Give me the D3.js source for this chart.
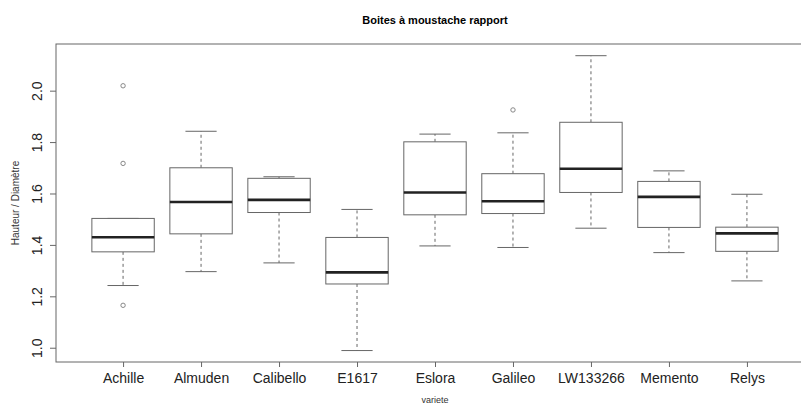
<!DOCTYPE html>
<html>
<head>
<meta charset="utf-8">
<script src="https://cdn.jsdelivr.net/npm/d3@7"></script>
<style>
  body { margin: 0; background: #fff; }
  svg { font-family: "Liberation Sans", Arial, sans-serif; }
</style>
</head>
<body>
<svg id="chart" width="801" height="405"></svg>
<script>
// box statistics
const varietes = ["Achille", "Almuden", "Calibello", "E1617", "Eslora", "Galileo", "LW133266", "Memento", "Relys"];
const whiskerLow  = [1.242, 1.296, 1.330, 0.989, 1.396, 1.390, 1.465, 1.370, 1.260];
const q1          = [1.373, 1.443, 1.526, 1.248, 1.517, 1.522, 1.604, 1.468, 1.375];
const medians     = [1.430, 1.567, 1.575, 1.293, 1.604, 1.570, 1.696, 1.587, 1.445];
const q3          = [1.503, 1.700, 1.659, 1.429, 1.801, 1.677, 1.877, 1.647, 1.469];
const whiskerHigh = [1.503, 1.842, 1.665, 1.538, 1.831, 1.836, 2.136, 1.688, 1.597];
const outliers = [
  ["Achille", 2.019], ["Achille", 1.717], ["Achille", 1.165],
  ["Galileo", 1.925]
];
const yTicks = [1.0, 1.2, 1.4, 1.6, 1.8, 2.0];

const svg = d3.select("#chart");
const pLeft = 56, pRight = 814, pTop = 44, pBottom = 362;

// R style: positions 1..n, xlim 0.5..n+0.5 widened by 4%
const n = varietes.length;
const x = d3.scaleLinear()
  .domain([0.5 - n * 0.04, n + 0.5 + n * 0.04])
  .range([pLeft, pRight]);
const y = d3.scaleLinear()
  .domain([0.9445, 2.1815])
  .range([pBottom, pTop]);

const boxW = (x(1) - x(0)) * 0.8;
const capW = boxW / 2;

const stats = varietes.map((v, i) => ({
  name: v, pos: i + 1,
  lo: whiskerLow[i], q1: q1[i], med: medians[i], q3: q3[i], hi: whiskerHigh[i]
}));

const g = svg.append("g");

// whiskers (dashed)
g.selectAll(".wl").data(stats).enter().append("line")
  .attr("x1", d => x(d.pos)).attr("x2", d => x(d.pos))
  .attr("y1", d => y(d.q1)).attr("y2", d => y(d.lo))
  .attr("stroke", "#666").attr("stroke-dasharray", "3,3");
g.selectAll(".wh").data(stats).enter().append("line")
  .attr("x1", d => x(d.pos)).attr("x2", d => x(d.pos))
  .attr("y1", d => y(d.q3)).attr("y2", d => y(d.hi))
  .attr("stroke", "#666").attr("stroke-dasharray", "3,3");

// caps
["lo", "hi"].forEach(k => {
  g.selectAll(".cap" + k).data(stats).enter().append("line")
    .attr("x1", d => x(d.pos) - capW / 2).attr("x2", d => x(d.pos) + capW / 2)
    .attr("y1", d => y(d[k])).attr("y2", d => y(d[k]))
    .attr("stroke", "#666");
});

// boxes
g.selectAll(".box").data(stats).enter().append("rect")
  .attr("x", d => x(d.pos) - boxW / 2)
  .attr("width", boxW)
  .attr("y", d => y(d.q3))
  .attr("height", d => y(d.q1) - y(d.q3))
  .attr("fill", "#fff").attr("stroke", "#666");

// medians
g.selectAll(".med").data(stats).enter().append("line")
  .attr("x1", d => x(d.pos) - boxW / 2).attr("x2", d => x(d.pos) + boxW / 2)
  .attr("y1", d => y(d.med)).attr("y2", d => y(d.med))
  .attr("stroke", "#222").attr("stroke-width", 2.6);

// outliers
g.selectAll(".out").data(outliers).enter().append("circle")
  .attr("cx", d => x(varietes.indexOf(d[0]) + 1))
  .attr("cy", d => y(d[1]))
  .attr("r", 2.2)
  .attr("fill", "none").attr("stroke", "#888");

// plot frame
svg.append("rect")
  .attr("x", pLeft).attr("y", pTop)
  .attr("width", pRight - pLeft).attr("height", pBottom - pTop)
  .attr("fill", "none").attr("stroke", "#666");

// y axis
const yAxis = svg.append("g")
  .attr("transform", `translate(${pLeft},0)`)
  .call(d3.axisLeft(y).tickValues(yTicks).tickFormat(d3.format(".1f")).tickSize(6).tickPadding(6));
yAxis.select(".domain").remove();
yAxis.selectAll(".tick line").attr("stroke", "#666");
yAxis.selectAll(".tick text")
  .attr("transform", "rotate(-90)")
  .attr("x", 0).attr("y", -14)
  .attr("dy", "0")
  .attr("text-anchor", "middle")
  .attr("font-size", 14).attr("fill", "#222");

// x axis
const xAxis = svg.append("g")
  .attr("transform", `translate(0,${pBottom})`)
  .call(d3.axisBottom(x).tickValues(d3.range(1, n + 1)).tickFormat(i => varietes[i - 1]).tickSize(5).tickPadding(5));
xAxis.select(".domain").remove();
xAxis.selectAll(".tick line").attr("stroke", "#666");
xAxis.selectAll(".tick text").attr("font-size", 14).attr("fill", "#222").attr("dy", "0.75em");

// titles
svg.append("text")
  .attr("x", (pLeft + pRight) / 2).attr("y", 24)
  .attr("text-anchor", "middle")
  .attr("font-size", 11).attr("font-weight", "bold")
  .text("Boites à moustache rapport");

svg.append("text")
  .attr("transform", `translate(19,${(pTop + pBottom) / 2}) rotate(-90)`)
  .attr("text-anchor", "middle")
  .attr("font-size", 10).attr("fill", "#333")
  .text("Hauteur / Diamètre");

svg.append("text")
  .attr("x", (pLeft + pRight) / 2).attr("y", 403)
  .attr("text-anchor", "middle")
  .attr("font-size", 9).attr("fill", "#333")
  .text("variete");
</script>
</body>
</html>
